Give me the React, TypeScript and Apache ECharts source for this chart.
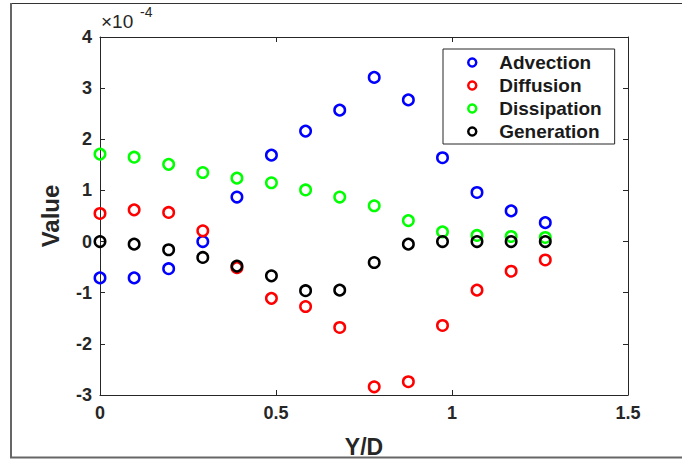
import React, { useEffect, useRef } from "react";
import * as echarts from "echarts";

// Y/D positions
const yd = [0, 0.097, 0.195, 0.292, 0.389, 0.487, 0.584, 0.681, 0.779, 0.876, 0.973, 1.071, 1.168, 1.265];
// values in units of 1e-4
const advection = [-0.71, -0.71, -0.53, 0.0, 0.87, 1.69, 2.16, 2.57, 3.21, 2.77, 1.64, 0.96, 0.6, 0.37];
const diffusion = [0.55, 0.62, 0.57, 0.21, -0.51, -1.11, -1.27, -1.68, -2.84, -2.74, -1.64, -0.95, -0.58, -0.36];
const dissipation = [1.71, 1.65, 1.51, 1.35, 1.24, 1.15, 1.01, 0.87, 0.7, 0.41, 0.19, 0.12, 0.1, 0.08];
const generation = [0, -0.05, -0.16, -0.31, -0.48, -0.67, -0.96, -0.95, -0.41, -0.05, 0.0, 0.0, 0.0, 0.0];

const seriesNames = ["Advection", "Diffusion", "Dissipation", "Generation"];
const seriesColors = ["#0000ff", "#ff0000", "#00ff00", "#000000"];
const seriesValues = [advection, diffusion, dissipation, generation];

const xTicks = { min: 0, max: 1.5, interval: 0.5 };
const yTicks = { min: -3, max: 4, interval: 1 };

const FONT = "'Liberation Sans', Arial, sans-serif";
const AXIS_COLOR = "#262626";

export default function App() {
  const ref = useRef<HTMLDivElement>(null);
  useEffect(() => {
    if (!ref.current) return;
    const chart = echarts.init(ref.current, null, { renderer: "svg" });
    const tickStyle = { inside: true, length: 5, lineStyle: { color: AXIS_COLOR, width: 1 } };
    const labelStyle = { color: AXIS_COLOR, fontFamily: FONT, fontWeight: "bold" as const, fontSize: 18 };
    chart.setOption({
      animation: false,
      backgroundColor: "#ffffff",
      grid: { left: 100, right: 54, top: 37, bottom: 65, containLabel: false, outerBoundsMode: "none" },
      legend: {
        orient: "vertical",
        left: 443,
        top: 49,
        padding: [4, 13, 3, 24],
        itemGap: 4,
        itemWidth: 44,
        itemHeight: 8,
        icon: "circle",
        backgroundColor: "#ffffff",
        borderColor: AXIS_COLOR,
        borderWidth: 1,
        borderRadius: 0,
        textStyle: { fontFamily: FONT, fontWeight: "bold", fontSize: 19, color: "#1a1a1a", lineHeight: 19 },
        data: seriesNames.map((n, i) => ({
          name: n,
          itemStyle: { color: "#ffffff", borderColor: seriesColors[i], borderWidth: 2.5 },
        })),
      },
      xAxis: [
        {
          type: "value",
          ...xTicks,
          name: "Y/D",
          nameLocation: "middle",
          nameGap: 40,
          nameTextStyle: { ...labelStyle, fontSize: 23 },
          axisLine: { show: true, onZero: false, lineStyle: { color: AXIS_COLOR, width: 1 } },
          axisTick: tickStyle,
          axisLabel: { ...labelStyle, margin: 9 },
          splitLine: { show: false },
        },
        {
          type: "value",
          position: "top",
          ...xTicks,
          axisLine: { show: true, onZero: false, lineStyle: { color: AXIS_COLOR, width: 1 } },
          axisTick: tickStyle,
          axisLabel: { show: false },
          splitLine: { show: false },
        },
      ],
      yAxis: [
        {
          type: "value",
          ...yTicks,
          name: "Value",
          nameLocation: "middle",
          nameGap: 38,
          nameTextStyle: { ...labelStyle, fontSize: 24 },
          axisLine: { show: true, onZero: false, lineStyle: { color: AXIS_COLOR, width: 1 } },
          axisTick: tickStyle,
          axisLabel: { ...labelStyle, margin: 8 },
          splitLine: { show: false },
        },
        {
          type: "value",
          position: "right",
          ...yTicks,
          axisLine: { show: true, onZero: false, lineStyle: { color: AXIS_COLOR, width: 1 } },
          axisTick: tickStyle,
          axisLabel: { show: false },
          splitLine: { show: false },
        },
      ],
      series: seriesNames.map((n, i) => ({
        name: n,
        type: "scatter",
        xAxisIndex: 0,
        yAxisIndex: 0,
        symbol: "circle",
        symbolSize: 10.5,
        itemStyle: { color: "rgba(255,255,255,0)", borderColor: seriesColors[i], borderWidth: 2.5, opacity: 1 },
        data: yd.map((x, j) => [x, seriesValues[i][j]]),
      })),
      graphic: [
        { type: "line", shape: { x1: 11, y1: 3.5, x2: 700, y2: 3.5 }, style: { stroke: "#333333", lineWidth: 1 } },
        { type: "line", shape: { x1: 11, y1: 3, x2: 11, y2: 458 }, style: { stroke: "#666666", lineWidth: 2 } },
        { type: "line", shape: { x1: 10, y1: 457.5, x2: 700, y2: 457.5 }, style: { stroke: "#666666", lineWidth: 2 } },
        {
          type: "text",
          left: 101,
          top: 12,
          style: { text: "×10", fontFamily: FONT, fontSize: 19, fill: AXIS_COLOR },
        },
        {
          type: "text",
          left: 140,
          top: 5,
          style: { text: "-4", fontFamily: FONT, fontSize: 14, fill: AXIS_COLOR },
        },
      ],
    });
    return () => chart.dispose();
  }, []);
  return (
    <div
      ref={ref}
      style={{ position: "fixed", left: 0, top: 0, width: 682, height: 460 }}
    />
  );
}
